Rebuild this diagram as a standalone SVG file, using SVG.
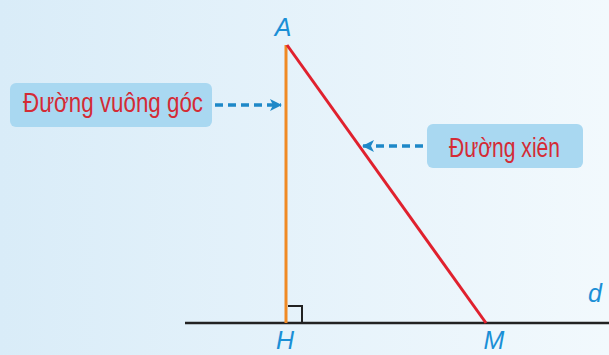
<svg xmlns="http://www.w3.org/2000/svg" width="609" height="355" viewBox="0 0 609 355">
<defs>
<linearGradient id="bg" x1="0" y1="0" x2="1" y2="0">
<stop offset="0" stop-color="#d9ecf8"/>
<stop offset="1" stop-color="#f2f9fd"/>
</linearGradient>
<marker id="ah" viewBox="0 0 12 12" refX="11" refY="6" markerWidth="12" markerHeight="12" markerUnits="userSpaceOnUse" orient="auto">
<path d="M0,0 L12,6 L0,12 L3,6 Z" fill="#1e88c8"/>
</marker>
<style>
.box{fill:#a9d8f1;}
.lbl{font-family:"Liberation Sans",Arial,sans-serif;font-size:28px;fill:#d42b35;}
.pt{font-family:"Liberation Sans",Arial,sans-serif;font-size:25px;font-style:italic;fill:#1a8fd6;}
.arr{stroke:#1e88c8;stroke-width:3.5;stroke-dasharray:8,5;fill:none;}
</style>
</defs>
<rect width="609" height="355" fill="url(#bg)"/>
<g id="connectors">
<line id="line-d" x1="185" y1="323" x2="609" y2="323" stroke="#222" stroke-width="2.5"/>
<line id="AH" x1="286" y1="45" x2="286" y2="323" stroke="#f08a24" stroke-width="3"/>
<line id="AM" x1="287" y1="45" x2="486" y2="323" stroke="#e0212e" stroke-width="3"/>
<path id="right-angle" d="M288,306 H302 V323" fill="none" stroke="#222" stroke-width="2"/>
<line class="arr" x1="215" y1="105" x2="281" y2="105" marker-end="url(#ah)"/>
<line class="arr" x1="423" y1="146" x2="363" y2="146" marker-end="url(#ah)"/>
</g>
<g id="box-vuong-goc">
<rect class="box" x="10" y="83" width="202" height="44" rx="6"/>
<text class="lbl" x="23" y="112" textLength="180" lengthAdjust="spacingAndGlyphs">Đường vuông góc</text>
</g>
<g id="box-xien">
<rect class="box" x="427" y="124" width="156" height="44" rx="6"/>
<text class="lbl" x="449" y="157" textLength="111" lengthAdjust="spacingAndGlyphs">Đường xiên</text>
</g>
<g id="point-A"><text class="pt" x="283" y="36" text-anchor="middle">A</text></g>
<g id="point-H"><text class="pt" x="285" y="349" text-anchor="middle" font-size="23">H</text></g>
<g id="point-M"><text class="pt" x="494" y="349" text-anchor="middle" font-size="23">M</text></g>
<g id="label-d"><text class="pt" x="595" y="302" text-anchor="middle">d</text></g>
</svg>
